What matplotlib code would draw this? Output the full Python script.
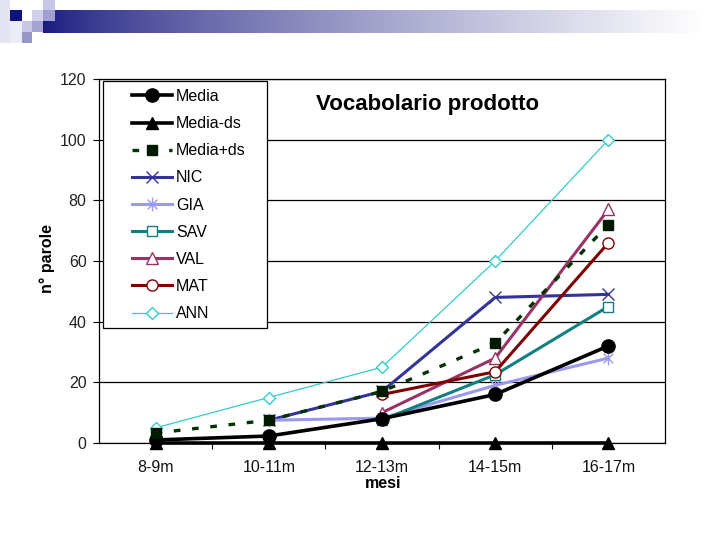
import numpy as np
import matplotlib
matplotlib.use("Agg")
import matplotlib.pyplot as plt
from matplotlib.patches import Rectangle
from matplotlib.path import Path

plt.rcParams['font.family'] = ['Liberation Sans', 'DejaVu Sans']

categories = ["8-9m", "10-11m", "12-13m", "14-15m", "16-17m"]
nan = np.nan
media = [1, 2.3, 8, 16, 32]
media_ds = [0, 0, 0, 0, 0]
media_pds = [3.3, 7.5, 17, 33, 72]
nic = [nan, 7.5, 17, 48, 49]
gia = [nan, 7.5, 8.2, 19, 28]
sav = [nan, nan, 7.6, 22.5, 45]
val = [nan, nan, 10, 28, 77]
mat = [nan, nan, 16, 23.5, 66]
ann = [5, 15, 25, 60, 100]
yticks = [0, 20, 40, 60, 80, 100, 120]

W, H = 720, 540
fig = plt.figure(figsize=(7.2, 5.4), dpi=100)

def fx(x): return x / W
def fy(y): return 1 - y / H

# --- header decoration ---
gax = fig.add_axes([fx(43), fy(33), fx(705) - fx(43), (33 - 10) / H])
t = np.linspace(0, 1, 400) ** 0.75
c0 = np.array([0.10, 0.10, 0.50])
grad = c0[None, :] * (1 - t[:, None]) + np.ones(3)[None, :] * t[:, None]
gax.imshow(grad[None, :, :], aspect='auto', extent=[0, 1, 0, 1])
gax.axis('off')

squares = [
    (0, 0, 10, 43, '#e4e4f2'),
    (43, 0, 12, 10, '#c8c8e6'),
    (10, 10, 12, 12, '#10107e'),
    (32, 10, 11, 11, '#d0d0ea'),
    (43, 10, 12, 11, '#9f9fd0'),
    (10, 21, 12, 22, '#ececf6'),
    (22, 21, 10, 11, '#c8c8e6'),
    (32, 21, 11, 11, '#a4a4d4'),
    (22, 32, 10, 11, '#9898c8'),
]
for (x, y, w, h, col) in squares:
    fig.add_artist(Rectangle((fx(x), fy(y + h)), w / W, h / H,
                             transform=fig.transFigure, facecolor=col,
                             edgecolor='none', zorder=3))

# star marker: X plus vertical line
star = Path([(-0.7, -0.7), (0.7, 0.7), (-0.7, 0.7), (0.7, -0.7), (0, -1), (0, 1)],
            [Path.MOVETO, Path.LINETO, Path.MOVETO, Path.LINETO, Path.MOVETO, Path.LINETO])

# --- main axes ---
ax = fig.add_axes([fx(99), fy(443), fx(665) - fx(99), (443 - 79) / H])
xs = np.arange(len(categories))

common = dict(clip_on=False)
ax.plot(xs, media, color='black', lw=2.6, marker='o', ms=9.5,
        mfc='black', mec='black', label='Media', zorder=5, **common)
ax.plot(xs, media_ds, color='black', lw=2.6, marker='^', ms=8,
        mfc='black', mec='black', label='Media-ds', zorder=5, **common)
ax.plot(xs, media_pds, color='#003300', lw=2.4, marker='s', ms=7,
        mfc='#001a00', mec='#001a00', dashes=(2, 3.5), label='Media+ds',
        zorder=5, **common)
ax.plot(xs, nic, color='#333399', lw=2.2, marker='x', ms=8, mew=1.0,
        mec='#333399', label='NIC', zorder=4, **common)
ax.plot(xs, gia, color='#9999ee', lw=2.2, marker=star, ms=10, mew=1.0,
        mec='#9999ee', label='GIA', zorder=4, **common)
ax.plot(xs, sav, color='#108080', lw=2.2, marker='s', ms=7, mew=1.0,
        mfc='white', mec='#108080', label='SAV', zorder=4, **common)
ax.plot(xs, val, color='#993366', lw=2.2, marker='^', ms=8.5, mew=1.0,
        mfc='white', mec='#993366', label='VAL', zorder=4, **common)
ax.plot(xs, mat, color='#800000', lw=2.2, marker='o', ms=8, mew=1.0,
        mfc='white', mec='#800000', label='MAT', zorder=4, **common)
ax.plot(xs, ann, color='#33cccc', lw=0.9, marker='D', ms=6.5, mew=1.0,
        mfc='white', mec='#33cccc', label='ANN', zorder=4, **common)

ax.set_xlim(-0.5, len(categories) - 0.5)
ax.set_ylim(0, 120)
ax.set_yticks(yticks)
ax.set_xticks(xs)
ax.set_xticklabels(categories)
ax.set_xticks(np.arange(0.5, len(categories) - 0.5, 1), minor=True)
ax.tick_params(axis='x', which='major', length=0, pad=12, labelsize=11.5,
               labelcolor='#111111')
ax.tick_params(axis='x', which='minor', length=4, width=0.8, direction='out')
ax.tick_params(axis='y', length=4, width=0.8, direction='out', pad=5,
               labelsize=11.5, labelcolor='#222222')
ax.yaxis.grid(True, color='black', lw=0.9)
ax.set_axisbelow(True)
for s in ax.spines.values():
    s.set_color('black')
    s.set_linewidth(0.9)

# legend box
fig.add_artist(Rectangle((fx(103), fy(328)), (267 - 103) / W, (328 - 81) / H,
                         transform=fig.transFigure, facecolor='white',
                         edgecolor='black', lw=0.9, zorder=2))
handles, labels = ax.get_legend_handles_labels()
leg = fig.legend(handles, labels, loc='upper left',
                 bbox_to_anchor=(fx(132), fy(89)), bbox_transform=fig.transFigure,
                 frameon=False, borderpad=0, borderaxespad=0,
                 fontsize=11.5, handlelength=2.5, handletextpad=0.25,
                 labelspacing=0.76)
leg.set_zorder(6)

fig.text(fx(428), fy(104), "Vocabolario prodotto", ha='center', va='center',
         fontsize=16, fontweight='bold')
fig.text(fx(383), fy(483), "mesi", ha='center', va='center',
         fontsize=11.5, fontweight='bold')
fig.text(fx(47), fy(258), "n° parole", ha='center', va='center',
         rotation=90, fontsize=11.5, fontweight='bold')

fig.savefig("out.png", dpi=100)
